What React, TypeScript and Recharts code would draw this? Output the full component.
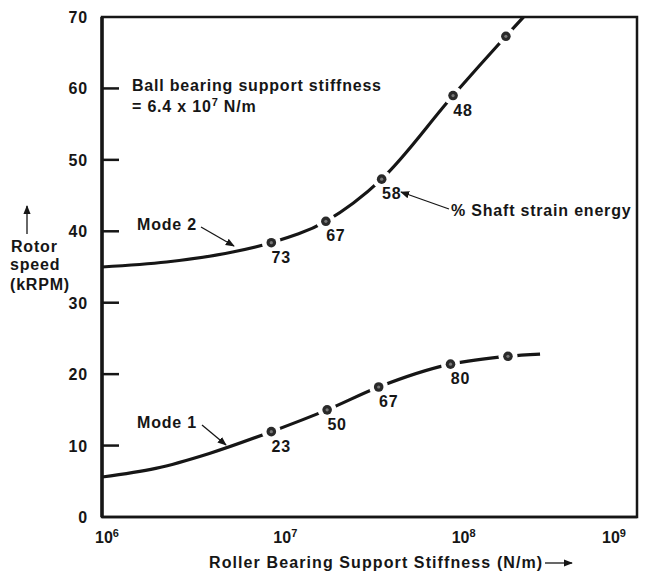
import React from 'react'
import {
  ComposedChart, Line, Scatter, XAxis, YAxis, ReferenceArea
} from 'recharts'

// curve points (x = roller bearing stiffness N/m, y = rotor speed kRPM)
const mode1X = [1e6, 2e6, 4e6, 8.9e6, 1.83e7, 3.56e7, 9e7, 1.89e8, 2.86e8]
const mode1Y = [5.6, 6.8, 8.9, 11.95, 15.0, 18.2, 21.4, 22.5, 22.8]
const mode2X = [1e6, 2.3e6, 5.4e6, 8.9e6, 1.8e7, 3.7e7, 9.3e7, 1.84e8, 2.31e8]
const mode2Y = [35, 35.7, 37.1, 38.4, 41.4, 47.3, 59.0, 67.3, 70]

// marked points and % shaft strain energy
const mode1MarkX = [8.9e6, 1.83e7, 3.56e7, 9e7, 1.89e8]
const mode1MarkY = [11.95, 15.0, 18.2, 21.4, 22.5]
const mode1Strain = ['23', '50', '67', '80', '']
const mode2MarkX = [8.9e6, 1.8e7, 3.7e7, 9.3e7, 1.84e8]
const mode2MarkY = [38.4, 41.4, 47.3, 59.0, 67.3]
const mode2Strain = ['73', '67', '58', '48', '']

const xTicks = [1e6, 1e7, 1e8, 1e9]
const yTicks = [0, 10, 20, 30, 40, 50, 60, 70]

const FONT = '"Liberation Sans", Arial, Helvetica, sans-serif'
const INK = '#161616'
const PLOT_LEFT = 102
const PLOT_BOTTOM = 517

const mode1Curve = mode1X.map((x, i) => ({ x, y: mode1Y[i] }))
const mode2Curve = mode2X.map((x, i) => ({ x, y: mode2Y[i] }))
const mode1Marks = mode1MarkX.map((x, i) => ({ x, y: mode1MarkY[i], label: mode1Strain[i] }))
const mode2Marks = mode2MarkX.map((x, i) => ({ x, y: mode2MarkY[i], label: mode2Strain[i] }))

const XTick = (props: any) => {
  const { x, payload } = props
  const exp = Math.round(Math.log10(payload.value))
  return (
    <text x={x + 5} y={PLOT_BOTTOM + 26} textAnchor="middle" fontFamily={FONT}
      fontWeight="bold" fontSize={16} fill={INK}>
      <tspan>10</tspan>
      <tspan dy={-6} fontSize={11}>{exp}</tspan>
    </text>
  )
}

const YTick = (props: any) => {
  const { y, payload } = props
  const v = payload.value
  return (
    <g>
      {v > 0 && v < 70 && (
        <line x1={PLOT_LEFT} x2={PLOT_LEFT + 17} y1={y} y2={y} stroke={INK} strokeWidth={2.5} />
      )}
      <text x={88} y={y + 6} textAnchor="end" fontFamily={FONT} fontWeight="bold"
        fontSize={16} letterSpacing={0.8} fill={INK}>{v}</text>
    </g>
  )
}

const Marker = (props: any) => {
  const { cx, cy, payload } = props
  return (
    <g>
      <circle cx={cx} cy={cy} r={9.5} fill="#fff" />
      <circle cx={cx} cy={cy} r={4.8} fill="#2a2a2a" />
      <circle cx={cx} cy={cy} r={1.6} fill="#777" />
      {payload.label && (
        <text x={cx + 10} y={cy + 20} textAnchor="middle" fontFamily={FONT}
          fontWeight="bold" fontSize={16} letterSpacing={0.8} fill={INK}>{payload.label}</text>
      )}
    </g>
  )
}

const textStyle = {
  fontFamily: FONT, fontWeight: 'bold' as const, fontSize: 16, letterSpacing: 0.8, fill: INK
}

const App = () => {
  return (
    <div style={{ position: 'absolute', left: 0, top: 0, width: 649, height: 571, background: '#fff' }}>
      <ComposedChart width={649} height={571} margin={{ top: 17, right: 12, left: 0, bottom: 0 }}>
        <XAxis dataKey="x" type="number" scale="log" domain={[1e6, 1e9]} ticks={xTicks}
          allowDataOverflow height={54} tick={<XTick />} tickLine={false}
          axisLine={{ stroke: INK, strokeWidth: 2.5 }} />
        <YAxis dataKey="y" type="number" domain={[0, 70]} ticks={yTicks} allowDataOverflow
          width={102} tick={<YTick />} tickLine={false}
          axisLine={{ stroke: INK, strokeWidth: 3.5 }} />
        <ReferenceArea x1={1e6} x2={1e9} y1={0} y2={70} fill="none" stroke={INK}
          strokeWidth={2.5} ifOverflow="visible" />
        <Line data={mode1Curve} dataKey="y" type="monotone" stroke={INK} strokeWidth={3.2}
          dot={false} isAnimationActive={false} />
        <Line data={mode2Curve} dataKey="y" type="monotone" stroke={INK} strokeWidth={3.2}
          dot={false} isAnimationActive={false} />
        <Scatter data={mode1Marks} dataKey="y" shape={<Marker />} isAnimationActive={false} />
        <Scatter data={mode2Marks} dataKey="y" shape={<Marker />} isAnimationActive={false} />
      </ComposedChart>

      <svg width={649} height={571} style={{ position: 'absolute', left: 0, top: 0, pointerEvents: 'none' }}>
        <defs>
          <marker id="ah" viewBox="0 0 10 10" refX="9" refY="5" markerWidth="7" markerHeight="7"
            orient="auto-start-reverse">
            <path d="M0,1 L10,5 L0,9 z" fill={INK} />
          </marker>
        </defs>

        {/* y axis title */}
        <line x1={27} y1={234} x2={27} y2={206} stroke={INK} strokeWidth={1.3} markerEnd="url(#ah)" />
        <text x={11} y={252} {...textStyle}>Rotor</text>
        <text x={10} y={270} {...textStyle}>speed</text>
        <text x={10} y={290} {...textStyle}>(kRPM)</text>

        {/* x axis title */}
        <text x={209} y={568} {...textStyle} letterSpacing={1.1}>Roller Bearing Support Stiffness (N/m)</text>
        <line x1={545} y1={563} x2={572} y2={563} stroke={INK} strokeWidth={1.3} markerEnd="url(#ah)" />

        <text x={132} y={91} {...textStyle}>Ball bearing support stiffness</text>
        <text x={132} y={112} {...textStyle}>
          = 6.4 x 10<tspan dy={-6} fontSize={11}>7</tspan><tspan dy={6}> N/m</tspan>
        </text>

        <text x={137} y={230} {...textStyle}>Mode 2</text>
        <line x1={201} y1={227} x2={234} y2={246} stroke={INK} strokeWidth={1.3} markerEnd="url(#ah)" />

        <text x={137} y={428} {...textStyle}>Mode 1</text>
        <line x1={202} y1={425} x2={226} y2={445} stroke={INK} strokeWidth={1.3} markerEnd="url(#ah)" />

        <text x={451} y={216} {...textStyle}>% Shaft strain energy</text>
        <line x1={449} y1={209} x2={401} y2={192} stroke={INK} strokeWidth={1.3} markerEnd="url(#ah)" />
      </svg>
    </div>
  )
}

export default App
